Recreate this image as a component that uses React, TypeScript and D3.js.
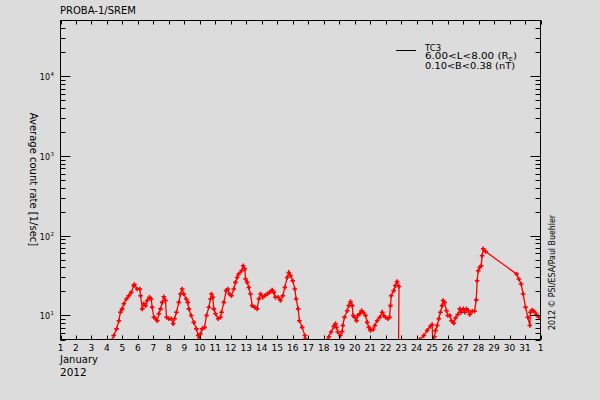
import React from "react";
import * as d3 from "d3";

// Time (day of January 2012, fractional) and average count rate [1/sec] for TC3
const days: number[] = [4.30,4.44,4.62,4.77,4.87,4.98,5.09,5.26,5.41,5.57,5.73,5.78,5.95,6.12,6.17,6.28,6.38,6.49,6.60,6.75,6.86,6.92,7.03,7.14,7.25,7.35,7.46,7.57,7.67,7.78,7.85,7.99,8.15,8.28,8.36,8.49,8.64,8.75,8.86,8.96,9.12,9.22,9.29,9.44,9.61,9.78,9.89,9.93,10.04,10.15,10.30,10.43,10.58,10.69,10.75,10.84,10.90,11.01,11.18,11.33,11.40,11.55,11.70,11.80,11.91,12.04,12.19,12.30,12.41,12.51,12.69,12.80,12.90,12.95,13.06,13.16,13.27,13.38,13.55,13.70,13.81,13.92,14.06,14.19,14.35,14.50,14.67,14.77,14.88,15.06,15.21,15.36,15.49,15.64,15.74,15.85,16.00,16.13,16.22,16.35,16.43,16.61,16.78,16.82,17.53,18.24,18.33,18.48,18.65,18.76,18.82,18.91,19.08,19.19,19.23,19.34,19.52,19.62,19.73,19.84,19.90,19.99,20.12,20.20,20.33,20.44,20.55,20.70,20.81,20.91,21.02,21.19,21.30,21.45,21.62,21.78,21.88,21.99,22.14,22.25,22.31,22.36,22.52,22.63,22.74,22.86,22.78,24.20,24.46,24.68,24.89,25.00,25.04,25.15,25.22,25.33,25.43,25.54,25.65,25.71,25.80,25.93,26.01,26.14,26.25,26.40,26.51,26.66,26.79,26.88,27.01,27.11,27.22,27.33,27.43,27.59,27.74,27.85,27.91,27.98,28.08,28.17,28.23,28.30,28.45,30.45,30.60,30.75,30.88,31.03,31.18,31.31,31.35,31.46,31.57,31.74,31.89];
const rates: number[] = [4.8,5.6,6.8,8.6,11.0,12.1,14.0,16.1,17.7,19.5,23.7,24.4,21.5,21.5,17.7,12.1,14.0,13.3,15.4,16.9,16.1,12.7,9.5,9.1,8.6,10.5,12.1,14.6,17.2,15.4,9.5,9.1,9.1,7.9,9.1,11.0,14.6,18.6,21.5,18.6,16.1,14.6,12.1,10.0,8.2,6.8,5.6,5.0,5.9,6.8,7.1,10.0,12.7,16.1,18.6,16.9,12.1,10.5,9.1,9.5,11.0,14.6,20.5,21.5,18.6,17.7,21.5,26.0,30.0,33.1,36.4,42.1,38.3,28.7,26.0,22.5,18.6,13.3,12.7,12.1,16.1,18.6,16.9,17.7,18.6,19.5,20.9,19.5,16.9,16.9,15.4,17.7,22.5,30.0,34.7,31.6,27.3,21.5,16.1,12.1,8.6,7.1,5.6,5.1,1.0,4.9,5.4,6.2,7.3,7.9,7.1,6.2,5.6,6.3,7.5,9.5,11.5,13.3,14.9,13.3,10.0,9.5,8.6,10.0,10.5,11.5,11.0,10.0,8.2,7.1,6.5,6.7,7.5,8.6,9.5,11.0,10.0,9.5,9.1,9.5,13.3,17.7,20.5,23.7,26.6,23.1,0.2,5.0,5.6,6.5,7.3,7.7,4.9,5.4,6.5,7.5,9.1,11.0,13.3,15.4,14.6,11.5,10.0,10.0,8.6,8.0,9.3,10.3,12.1,11.0,12.1,11.0,12.1,11.5,10.3,11.3,11.3,15.7,27.3,36.4,40.3,42.1,56.0,68.5,63.5,33.1,28.7,24.8,18.6,12.7,9.5,7.5,11.0,11.7,11.3,10.3,9.5];

const xTickDays: number[] = d3.range(1, 33);
const xTickLabels: string[] = [...d3.range(1, 32).map(String), "1"];
const yMajorExps: number[] = [1, 2, 3, 4];
const yMinorValues: number[] = [5,6,7,8,9, 20,30,40,50,60,70,80,90, 200,300,400,500,600,700,800,900, 2000,3000,4000,5000,6000,7000,8000,9000, 20000,30000,40000];

const W = 600, H = 400;
const X0 = 60.5, X1 = 540.5, Y0 = 20.5, Y1 = 339.5;
const FONT = "'DejaVu Sans', sans-serif";

export default function App() {
  const x = d3.scaleLinear().domain([1, 32]).range([X0, X1]);
  const y = d3.scaleLog().domain([5, 50000]).range([Y1, Y0]);
  const pts = days.map((d, i) => [d, rates[i]] as [number, number]);
  const line = d3.line<[number, number]>().x(p => x(p[0])).y(p => y(p[1]));
  const cross = d3.symbol(d3.symbolCross, 12)() as string;

  return (
    <svg width={W} height={H} style={{ position: "absolute", left: 0, top: 0, display: "block" }}
      xmlns="http://www.w3.org/2000/svg">
      <rect x={0} y={0} width={W} height={H} fill="#dcdcdc" />
      <defs>
        <clipPath id="plotclip">
          <rect x={X0} y={Y0} width={X1 - X0} height={Y1 - Y0} />
        </clipPath>
      </defs>

      {/* title */}
      <text x={60} y={14} fontFamily={FONT} fontSize={10} fill="#000">PROBA-1/SREM</text>

      {/* data */}
      <g clipPath="url(#plotclip)">
        <path d={line(pts) || ""} fill="none" stroke="#ff0000" strokeWidth={1.3} />
        {pts.map((p, i) => (
          <path key={i} d={cross} transform={`translate(${x(p[0])},${y(p[1])})`} fill="#ff0000" />
        ))}
      </g>

      {/* frame */}
      <rect x={X0} y={Y0} width={X1 - X0} height={Y1 - Y0} fill="none" stroke="#000" strokeWidth={1} />

      {/* x ticks (bottom & top, inward) */}
      {xTickDays.map((d, i) => {
        const xx = Math.round(x(d)) + 0.5;
        return (
          <g key={"xt" + i}>
            <line x1={xx} x2={xx} y1={Y1} y2={Y1 - 4} stroke="#000" />
            <line x1={xx} x2={xx} y1={Y0} y2={Y0 + 4} stroke="#000" />
            <text x={x(d)} y={351} textAnchor="middle" fontFamily={FONT} fontSize={9} fill="#000">{xTickLabels[i]}</text>
          </g>
        );
      })}
      <text x={60} y={363} fontFamily={FONT} fontSize={10} fill="#000">January</text>
      <text x={60} y={375.5} fontFamily={FONT} fontSize={10.5} fill="#000">2012</text>

      {/* y ticks */}
      {yMajorExps.map(e => {
        const yy = Math.round(y(Math.pow(10, e))) + 0.5;
        return (
          <g key={"ym" + e}>
            <line x1={X0} x2={X0 + 10} y1={yy} y2={yy} stroke="#000" />
            <line x1={X1} x2={X1 - 10} y1={yy} y2={yy} stroke="#000" />
            <text x={50} y={yy + 3} textAnchor="end" fontFamily={FONT} fontSize={8} fill="#000">10</text>
            <text x={50.5} y={yy - 0.5} fontFamily={FONT} fontSize={5.5} fill="#000">{e}</text>
          </g>
        );
      })}
      {yMinorValues.map(v => {
        const yy = Math.round(y(v)) + 0.5;
        return (
          <g key={"yn" + v}>
            <line x1={X0} x2={X0 + 5} y1={yy} y2={yy} stroke="#000" />
            <line x1={X1} x2={X1 - 5} y1={yy} y2={yy} stroke="#000" />
          </g>
        );
      })}

      {/* y title */}
      <text transform="translate(30,179.5) rotate(90)" textAnchor="middle" fontFamily={FONT} fontSize={10} fill="#000">
        Average count rate [1/sec]
      </text>

      {/* credit */}
      <text transform="translate(555,330) rotate(-90)" fontFamily={FONT} fontSize={8} textLength={115} lengthAdjust="spacingAndGlyphs" fill="#000">
        2012 © PSI/ESA/Paul Buehler
      </text>

      {/* legend */}
      <line x1={396} x2={416} y1={50.5} y2={50.5} stroke="#000" strokeWidth={1} />
      <text x={425} y={50.5} fontFamily={FONT} fontSize={8.5} fill="#000">TC3</text>
      <text x={425} y={59} fontFamily={FONT} fontSize={8.5} textLength={92} lengthAdjust="spacingAndGlyphs" fill="#000">
        6.00&lt;L&lt;8.00 (R<tspan fontSize={5.5} dy={1.5}>E</tspan><tspan dy={-1.5}>)</tspan>
      </text>
      <text x={425} y={68.5} fontFamily={FONT} fontSize={8.5} textLength={90} lengthAdjust="spacingAndGlyphs" fill="#000">
        0.10&lt;B&lt;0.38 (nT)
      </text>
    </svg>
  );
}
